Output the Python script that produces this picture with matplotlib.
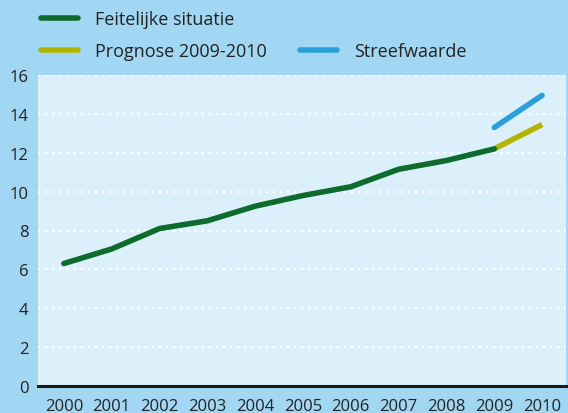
import numpy as np
import matplotlib.pyplot as plt
from matplotlib.lines import Line2D

years = [2000, 2001, 2002, 2003, 2004, 2005, 2006, 2007, 2008, 2009, 2010]
feitelijk = [6.3, 7.05, 8.1, 8.5, 9.25, 9.8, 10.25, 11.15, 11.6, 12.2]
prognose_years = [2009, 2010]
prognose = [12.2, 13.45]
streef_years = [2009, 2010]
streef = [13.3, 14.95]
y_ticks = [0, 2, 4, 6, 8, 10, 12, 14, 16]

plt.rcParams['font.family'] = ['Open Sans', 'DejaVu Sans']

GREEN = '#0d6b2c'
YELLOW = '#b3b300'
BLUE = '#2a9fd9'
FIG_BG = '#a2d7f4'
AX_BG = '#dcf0fc'
TEXT = '#222222'

fig = plt.figure(figsize=(5.68, 4.14), dpi=100)
fig.patch.set_facecolor(FIG_BG)
ax = fig.add_axes([38 / 568, 27 / 414, 528 / 568, 311 / 414])
ax.set_facecolor(AX_BG)

ax.plot(years[:len(feitelijk)], feitelijk, color=GREEN, lw=4, solid_capstyle='round', zorder=3)
ax.plot(prognose_years, prognose, color=YELLOW, lw=4, solid_capstyle='butt', zorder=2)
ax.plot(streef_years, streef, color=BLUE, lw=4, solid_capstyle='round', zorder=2)

ax.set_xlim(1999.46, 2010.5)
ax.set_ylim(0, 16)
ax.set_yticks(y_ticks)
ax.set_xticks(years)
for y in y_ticks[1:]:
    ax.axhline(y, color='white', lw=1.6, ls=(0, (1, 2.2)), zorder=1)
ax.axhline(0, color='#1a1a1a', lw=2.2, zorder=4, clip_on=False)

for s in ax.spines.values():
    s.set_visible(False)
ax.tick_params(length=0, labelsize=12, labelcolor=TEXT)
ax.tick_params(axis='y', pad=7)
ax.tick_params(axis='x', pad=9)

handles = [Line2D([], [], color=GREEN, lw=4, solid_capstyle='round'),
           Line2D([], [], color=YELLOW, lw=4, solid_capstyle='round'),
           Line2D([], [], color='none'),
           Line2D([], [], color=BLUE, lw=4, solid_capstyle='round')]
labels = ['Feitelijke situatie', 'Prognose 2009-2010', '', 'Streefwaarde']
fig.legend(handles, labels, ncol=2, loc='upper left', bbox_to_anchor=(25 / 568, 1.012),
           frameon=False, fontsize=13, labelcolor=TEXT, handlelength=2.05,
           columnspacing=1.8, labelspacing=0.75, handletextpad=0.95)

fig.savefig('out.png', dpi=100, facecolor=FIG_BG)
